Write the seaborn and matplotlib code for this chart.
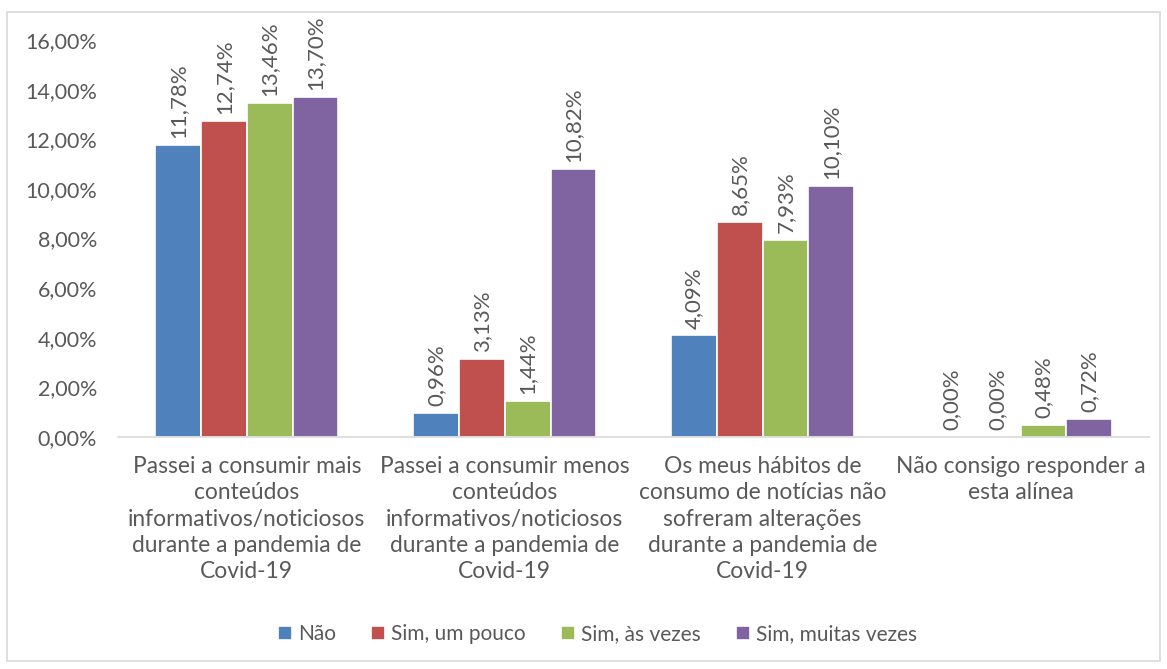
import matplotlib
matplotlib.use("Agg")
import matplotlib.pyplot as plt
import seaborn as sns
import pandas as pd
from matplotlib.ticker import FuncFormatter
from matplotlib.patches import Rectangle

categories = [
    "Passei a consumir mais\nconteúdos\ninformativos/noticiosos\ndurante a pandemia de\nCovid-19",
    "Passei a consumir menos\nconteúdos\ninformativos/noticiosos\ndurante a pandemia de\nCovid-19",
    "Os meus hábitos de\nconsumo de notícias não\nsofreram alterações\ndurante a pandemia de\nCovid-19",
    "Não consigo responder a\nesta alínea",
]
series = ["Não", "Sim, um pouco", "Sim, às vezes", "Sim, muitas vezes"]
nao = [11.78, 0.96, 4.09, 0.00]
sim_pouco = [12.74, 3.13, 8.65, 0.00]
sim_vezes = [13.46, 1.44, 7.93, 0.48]
sim_muitas = [13.70, 10.82, 10.10, 0.72]
colors = ["#4F81BD", "#C0504D", "#9BBB59", "#8064A2"]
yticks = [0, 2, 4, 6, 8, 10, 12, 14, 16]

rows = []
for s, vals in zip(series, [nao, sim_pouco, sim_vezes, sim_muitas]):
    for c, v in zip(categories, vals):
        rows.append({"cat": c, "serie": s, "val": v})
df = pd.DataFrame(rows)

sns.set_theme(style="white")
plt.rcParams["font.family"] = ["Lato", "DejaVu Sans"]
txt = "#595959"

fig = plt.figure(figsize=(11.67, 6.69), dpi=100)
ax = fig.add_axes([0.101, 0.347, 0.884, 0.593])

sns.barplot(data=df, x="cat", y="val", hue="serie", order=categories,
            hue_order=series, palette=colors, width=0.71, ax=ax,
            edgecolor="white", linewidth=1.2, saturation=1, legend=True)

for cont in ax.containers:
    labels = [f"{b.get_height():.2f}%".replace(".", ",") for b in cont]
    ax.bar_label(cont, labels=labels, rotation=90, padding=5,
                 fontsize=16, color=txt)

ax.set_ylim(0, 16)
ax.set_yticks(yticks)
ax.yaxis.set_major_formatter(FuncFormatter(lambda v, p: f"{v:.2f}%".replace(".", ",")))
ax.tick_params(axis="y", labelsize=15.5, labelcolor=txt, length=0, pad=15)
ax.tick_params(axis="x", labelsize=16.4, labelcolor=txt, length=0, pad=14)
for t in ax.get_xticklabels():
    t.set_linespacing(1.3)
ax.set_xlabel("")
ax.set_ylabel("")
for side in ["top", "right", "left"]:
    ax.spines[side].set_visible(False)
ax.spines["bottom"].set_color("#D9D9D9")
ax.spines["bottom"].set_linewidth(1.2)

handles, labs = ax.get_legend_handles_labels()
ax.legend_.remove()
fig.legend(handles, labs, loc="center", bbox_to_anchor=(0.512, 0.052), ncol=4,
           frameon=False, fontsize=15, labelcolor=txt, handlelength=0.65,
           handleheight=0.65, handletextpad=0.3, columnspacing=1.7)

fig.patches.append(Rectangle((0.006, 0.012), 0.988, 0.97, transform=fig.transFigure,
                             fill=False, edgecolor="#D9D9D9", linewidth=1.2))

fig.savefig("out.png", dpi=100)
